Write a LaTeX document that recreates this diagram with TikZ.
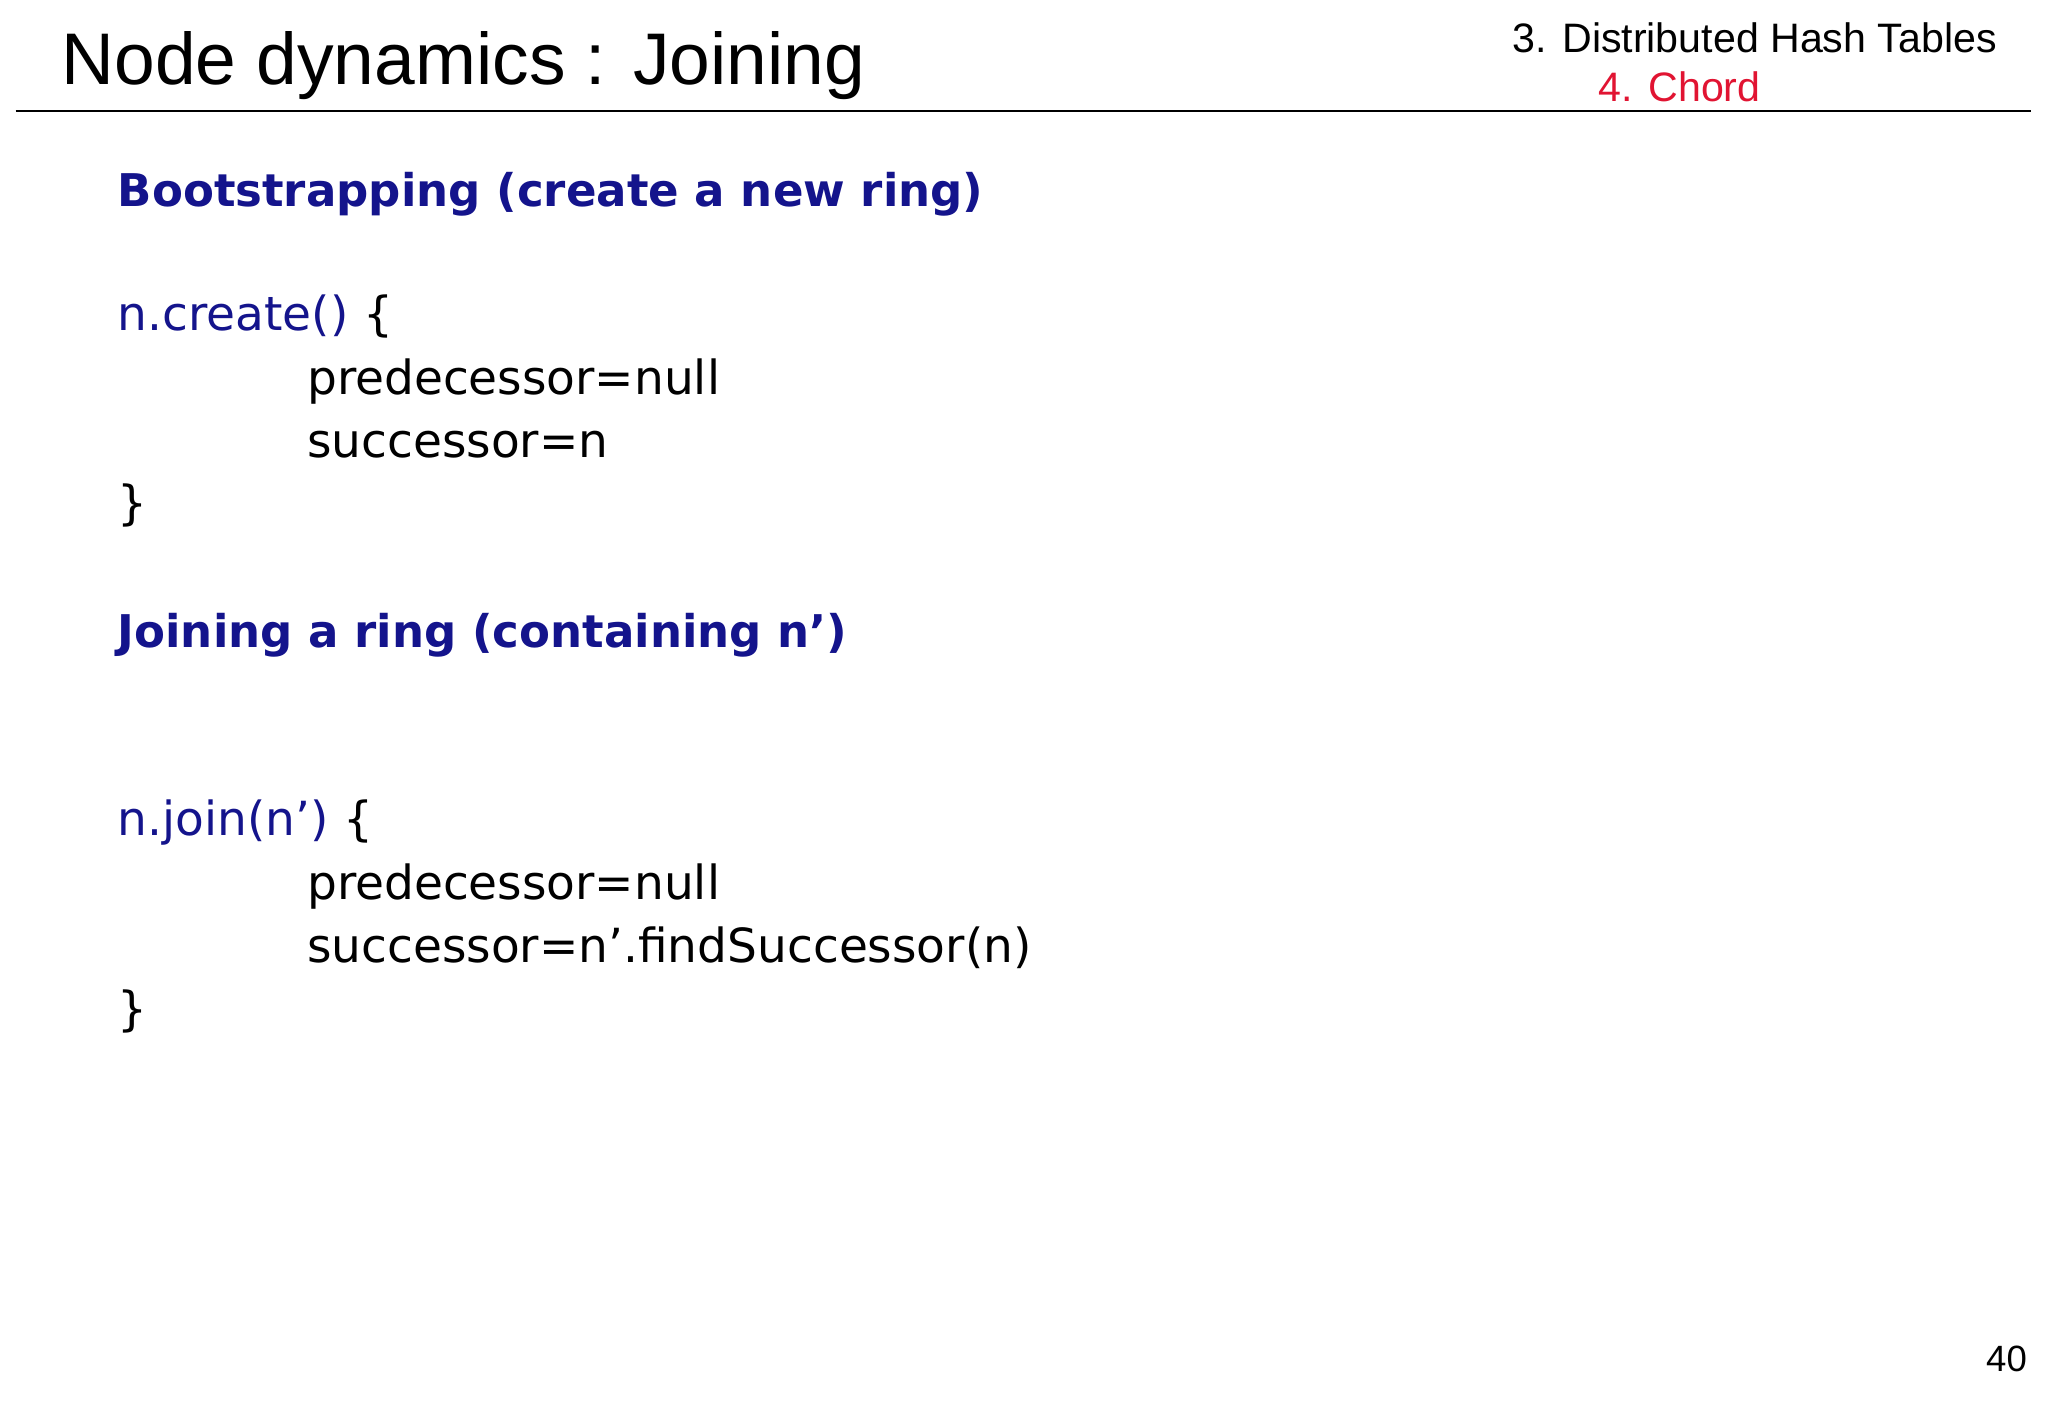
\documentclass[tikz,border=0pt]{standalone}
\usepackage{fontspec}
\setmainfont{Liberation Sans}
\newfontfamily\codefont{DejaVu Sans}
\definecolor{navy}{RGB}{20,20,140}
\definecolor{chordred}{RGB}{225,20,50}
\begin{document}
\begin{tikzpicture}[x=1pt,y=-1pt,
  code/.style={anchor=base west,inner sep=0,font=\codefont\fontsize{36}{40}\selectfont},
  head/.style={code,text=navy,font=\codefont\bfseries\fontsize{34.5}{40}\selectfont}]
\useasboundingbox (0,0) rectangle (1568,1086);
\fill[white] (0,0) rectangle (1568,1086);
\node[anchor=base west,inner sep=0,font=\fontsize{56}{60}\selectfont] (title) at (47,65) {Node dynamics : Joining};
\draw[line width=1.5pt] (12,85) coordinate (l) -- (1555,85) coordinate (r);
\node[anchor=base east,inner sep=0,font=\fontsize{31.5}{34}\selectfont] (sec) at (1529,40) {3. Distributed Hash Tables};
\node[anchor=base west,inner sep=0,text=chordred,font=\fontsize{31.5}{34}\selectfont] (sub) at (1224,78) {4. Chord};
\node[anchor=base east,inner sep=0,font=\fontsize{28}{30}\selectfont] (pg) at (1552,1050) {40};
\node[head] (h1) at (90,158) {Bootstrapping (create a new ring)};
\node[code] (c1) at (90,253) {\textcolor{navy}{n.create()} \{};
\node[code] (c2) at (235,302) {predecessor=null};
\node[code] (c3) at (235,350) {successor=n};
\node[code] (c4) at (90,398) {\}};
\node[head] (h2) at (90,496) {Joining a ring (containing n’)};
\node[code] (d1) at (90,640) {\textcolor{navy}{n.join(n’)} \{};
\node[code] (d2) at (235,689) {predecessor=null};
\node[code] (d3) at (235,737) {successor=n’.findSuccessor(n)};
\node[code] (d4) at (90,785) {\}};
\end{tikzpicture}
\end{document}
